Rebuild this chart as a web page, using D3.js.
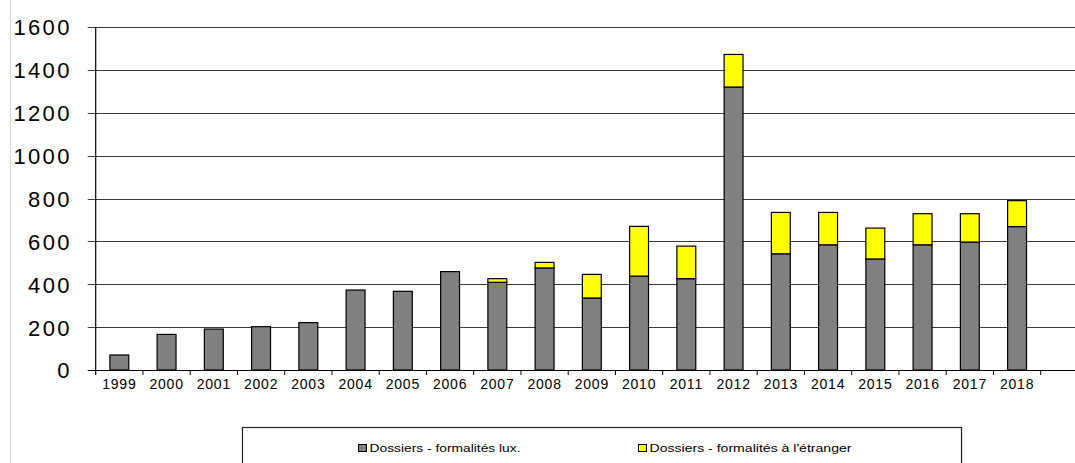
<!DOCTYPE html>
<html>
<head>
<meta charset="utf-8">
<script src="https://cdn.jsdelivr.net/npm/d3@7"></script>
<style>
  body { margin: 0; background: #fff; }
  svg { display: block; }
</style>
</head>
<body>
<svg></svg>
<script>
// données
const years = ['1999','2000','2001','2002','2003','2004','2005','2006','2007','2008',
               '2009','2010','2011','2012','2013','2014','2015','2016','2017','2018']
const lux = [70,166,191,202,221,373,367,459,409,476,336,438,426,1320,542,584,518,584,597,669]
const etranger = [0,0,0,0,0,0,0,0,17,26,110,232,152,152,193,151,144,145,132,121]
const yTicks = [0,200,400,600,800,1000,1200,1400,1600]
const seriesNames = ['Dossiers - formalités lux.', 'Dossiers - formalités à l\'étranger']
const seriesColors = ['#808080', '#ffff00']

// canevas
let width = 1075
let height = 463
let svg = d3.select('svg')
    .attr('width', width)
    .attr('height', height)

let left = 95.7
let step = 47.25
let y0 = 370, y1 = 27

// une catégorie vide en plus, à droite (coupée par le cadre)
let cats = years.concat([''])
let xScale = d3.scaleBand()
    .domain(cats)
    .range([left, left + step * cats.length])
    .padding(0)

let yScale = d3.scaleLinear()
    .domain([0, 1600])
    .range([y0, y1])

// bordure grise à gauche
svg.append('line')
    .attr('x1', 10.5).attr('x2', 10.5)
    .attr('y1', 0).attr('y2', height)
    .attr('stroke', '#d9d9d9')

// quadrillage
svg.append('g').selectAll('line').data(yTicks).enter()
    .append('line')
    .attr('x1', left - 8)
    .attr('x2', width)
    .attr('y1', d => Math.round(yScale(d)) + 0.5)
    .attr('y2', d => Math.round(yScale(d)) + 0.5)
    .attr('stroke', d => d === 0 ? '#000' : '#3a3a3a')
    .attr('stroke-width', 1.2)

// axe Y
let yAxis = d3.axisLeft(yScale).tickValues(yTicks).tickFormat(d3.format('d'))
    .tickSize(0).tickPadding(24)
let gy = svg.append('g')
    .attr('transform', 'translate(' + left + ',0)')
    .call(yAxis)
gy.select('.domain').remove()
gy.selectAll('text')
    .attr('font-family', 'Liberation Sans, Arial, sans-serif')
    .attr('font-size', 22)
    .attr('letter-spacing', 2.3)
    .attr('fill', '#000')
    .attr('dy', '0.36em')

svg.append('line')
    .attr('x1', left).attr('x2', left)
    .attr('y1', yScale(1600)).attr('y2', y0 + 5)
    .attr('stroke', '#000')
    .attr('stroke-width', 1.2)

// axe X : libellés
let xAxis = d3.axisBottom(xScale).tickSize(0).tickPadding(9)
let gx = svg.append('g')
    .attr('transform', 'translate(0,' + y0 + ')')
    .call(xAxis)
gx.select('.domain').remove()
gx.selectAll('text')
    .attr('font-family', 'Liberation Sans, Arial, sans-serif')
    .attr('font-size', 14)
    .attr('letter-spacing', 0.8)
    .attr('fill', '#000')

// graduations entre les catégories
svg.append('g').selectAll('line').data(cats).enter()
    .append('line')
    .attr('x1', d => xScale(d) + step)
    .attr('x2', d => xScale(d) + step)
    .attr('y1', y0)
    .attr('y2', y0 + 5)
    .attr('stroke', '#000')

// barres empilées
let barW = xScale.bandwidth() * 0.4
let bars = svg.append('g')
years.forEach((yr, i) => {
    let x = xScale(yr) + (xScale.bandwidth() - barW) / 2
    bars.append('rect')
        .attr('x', x)
        .attr('y', yScale(lux[i]))
        .attr('width', barW)
        .attr('height', yScale(0) - yScale(lux[i]))
        .attr('fill', seriesColors[0])
        .attr('stroke', '#000')
        .attr('stroke-width', 1.2)
    if (etranger[i] > 0) {
        bars.append('rect')
            .attr('x', x)
            .attr('y', yScale(lux[i] + etranger[i]))
            .attr('width', barW)
            .attr('height', yScale(lux[i]) - yScale(lux[i] + etranger[i]))
            .attr('fill', seriesColors[1])
            .attr('stroke', '#000')
            .attr('stroke-width', 1.2)
    }
})

// légende
svg.append('rect')
    .attr('x', 242.5).attr('y', 427.5)
    .attr('width', 719).attr('height', 60)
    .attr('fill', '#fff')
    .attr('stroke', '#222')
    .attr('stroke-width', 1.2)

let legendX = [358.5, 638.5]
let legendW = [151, 202]
seriesNames.forEach((name, i) => {
    svg.append('rect')
        .attr('x', legendX[i]).attr('y', 444.5)
        .attr('width', 8).attr('height', 7)
        .attr('fill', seriesColors[i])
        .attr('stroke', '#000')
    svg.append('text')
        .attr('x', legendX[i] + 11)
        .attr('y', 452)
        .attr('font-family', 'Liberation Sans, Arial, sans-serif')
        .attr('font-size', 11.5)
        .attr('textLength', legendW[i])
        .attr('lengthAdjust', 'spacingAndGlyphs')
        .attr('fill', '#000')
        .text(name)
})
</script>
</body>
</html>
